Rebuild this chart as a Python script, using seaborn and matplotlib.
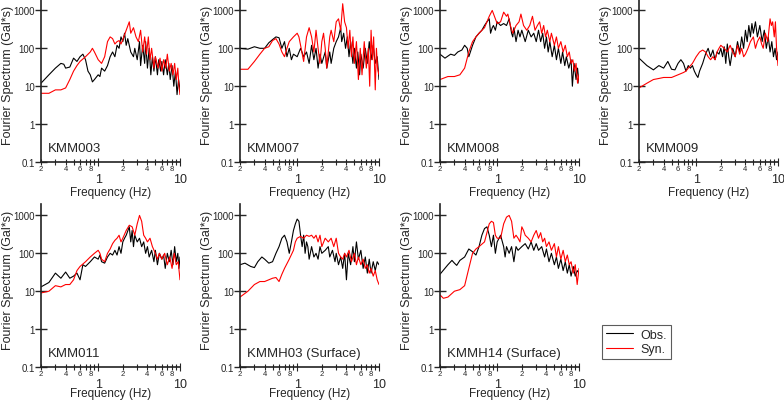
import numpy as np
import pandas as pd
import matplotlib
matplotlib.use("Agg")
import matplotlib.pyplot as plt
import seaborn as sns
from matplotlib.ticker import FixedLocator, FixedFormatter

# ---- data (frequency in Hz, amplitude in Gal*s) ----
kmm003_obs_f = [0.2, 0.25, 0.3, 0.35, 0.38, 0.4, 0.45, 0.5, 0.55, 0.6, 0.65, 0.7, 0.75, 0.8, 0.85, 0.9,
                1.0, 1.05, 1.1, 1.2, 1.3, 1.4, 1.5, 1.6, 1.7, 1.8, 1.9, 2.0, 2.1, 2.2, 2.3, 2.5, 2.7, 2.8,
                3.0, 3.2, 3.3, 3.5, 3.7, 3.8, 4.0, 4.2, 4.4, 4.6, 4.8, 5.0, 5.3, 5.5, 5.8, 6.0, 6.3, 6.6,
                7.0, 7.3, 7.6, 8.0, 8.4, 8.8, 9.2, 9.6, 10.0]
kmm003_obs_a = [12, 20, 30, 40, 38, 30, 32, 55, 45, 60, 70, 50, 25, 20, 13, 15,
                20, 18, 30, 25, 35, 60, 80, 60, 120, 100, 200, 150, 250, 120, 180, 80, 60, 100,
                50, 150, 35, 120, 40, 150, 30, 100, 20, 60, 25, 60, 20, 50, 25, 45, 20, 50,
                20, 40, 15, 35, 10, 25, 6, 15, 8]
kmm003_syn_f = [0.2, 0.25, 0.3, 0.35, 0.4, 0.45, 0.5, 0.55, 0.6, 0.7, 0.8, 0.85, 0.9, 1.0, 1.1, 1.2,
                1.3, 1.4, 1.5, 1.6, 1.7, 1.8, 1.9, 2.0, 2.2, 2.4, 2.5, 2.7, 2.9, 3.1, 3.3, 3.5, 3.7,
                3.9, 4.1, 4.3, 4.5, 4.8, 5.0, 5.4, 5.7, 6.0, 6.3, 6.7, 7.0, 7.4, 7.8, 8.2, 8.6, 9.0,
                9.4, 9.7, 10.0]
kmm003_syn_a = [6.5, 6.5, 8, 8, 9, 15, 25, 35, 45, 60, 80, 100, 80, 50, 40, 60,
                150, 200, 180, 130, 150, 160, 130, 170, 300, 500, 250, 350, 200, 150, 300, 80, 200,
                70, 200, 50, 100, 30, 60, 30, 55, 25, 50, 30, 70, 25, 40, 20, 40, 15,
                30, 10, 6]

kmm007_obs_f = [0.2, 0.25, 0.3, 0.35, 0.4, 0.45, 0.5, 0.55, 0.6, 0.65, 0.7, 0.75, 0.8, 0.85, 0.9, 1.0,
                1.1, 1.2, 1.3, 1.4, 1.5, 1.6, 1.7, 1.8, 1.9, 2.0, 2.2, 2.3, 2.5, 2.6, 2.8, 3.0, 3.2,
                3.4, 3.5, 3.7, 3.9, 4.1, 4.3, 4.5, 4.8, 5.0, 5.3, 5.5, 5.8, 6.0, 6.4, 6.8, 7.2, 7.6,
                8.0, 8.5, 9.0, 9.5, 10.0]
kmm007_obs_a = [100, 95, 110, 100, 100, 140, 170, 200, 190, 100, 150, 60, 100, 50, 70, 60,
                100, 60, 80, 40, 120, 50, 100, 30, 70, 40, 80, 30, 80, 40, 100, 150, 200,
                350, 150, 250, 100, 200, 60, 150, 40, 100, 30, 80, 20, 70, 30, 100, 40, 150,
                50, 120, 40, 60, 15]
kmm007_syn_f = [0.2, 0.25, 0.3, 0.35, 0.4, 0.45, 0.5, 0.55, 0.6, 0.65, 0.7, 0.75, 0.8, 0.9, 1.0, 1.05,
                1.1, 1.2, 1.3, 1.4, 1.5, 1.6, 1.7, 1.8, 1.9, 2.0, 2.1, 2.2, 2.3, 2.5, 2.6, 2.8, 3.0,
                3.2, 3.4, 3.6, 3.8, 4.0, 4.2, 4.4, 4.6, 4.8, 5.0, 5.3, 5.6, 5.9, 6.2, 6.6, 7.0, 7.4,
                7.7, 8.0, 8.3, 8.6, 9.0, 9.3, 9.6, 10.0]
kmm007_syn_a = [28, 28, 45, 70, 100, 110, 160, 180, 130, 80, 60, 100, 150, 200, 250, 200,
                120, 45, 200, 350, 200, 80, 300, 100, 40, 150, 250, 100, 30, 200, 300, 150, 500,
                600, 300, 1500, 500, 350, 100, 300, 60, 200, 40, 150, 15, 100, 20, 150, 30, 100,
                10, 300, 50, 200, 8, 100, 30, 20]

kmm008_obs_f = [0.2, 0.23, 0.27, 0.3, 0.33, 0.37, 0.4, 0.43, 0.45, 0.5, 0.55, 0.6, 0.65, 0.7, 0.75, 0.8,
                0.83, 0.87, 0.9, 0.95, 1.0, 1.1, 1.2, 1.3, 1.4, 1.5, 1.55, 1.6, 1.7, 1.8, 1.9, 2.0,
                2.2, 2.4, 2.6, 2.8, 3.0, 3.2, 3.4, 3.6, 3.8, 4.0, 4.2, 4.4, 4.7, 5.0, 5.3, 5.6, 6.0,
                6.3, 6.7, 7.0, 7.5, 8.0, 8.3, 8.7, 9.2, 9.6, 10.0]
kmm008_obs_a = [70, 55, 70, 65, 80, 90, 120, 100, 60, 120, 200, 250, 300, 400, 500, 600,
                250, 350, 400, 300, 500, 400, 450, 400, 600, 250, 200, 350, 150, 300, 200, 300,
                150, 300, 200, 250, 150, 300, 150, 250, 100, 200, 80, 150, 60, 120, 50, 100, 40,
                80, 35, 60, 30, 50, 10, 40, 15, 30, 12]
kmm008_syn_f = [0.2, 0.25, 0.3, 0.35, 0.4, 0.45, 0.5, 0.55, 0.6, 0.7, 0.8, 0.87, 0.95, 1.0, 1.1, 1.2,
                1.3, 1.35, 1.45, 1.55, 1.7, 1.85, 1.95, 2.1, 2.3, 2.5, 2.7, 2.9, 3.1, 3.3, 3.5, 3.7,
                3.9, 4.1, 4.4, 4.6, 5.0, 5.3, 5.6, 6.0, 6.4, 6.8, 7.2, 7.6, 8.0, 8.4, 8.8, 9.2, 9.6,
                10.0]
kmm008_syn_a = [15, 18, 18, 20, 30, 80, 150, 200, 250, 350, 700, 1000, 600, 450, 500, 900,
                700, 800, 400, 250, 400, 500, 800, 400, 300, 400, 700, 300, 400, 500, 250, 400,
                200, 300, 150, 250, 120, 200, 100, 150, 80, 120, 60, 80, 40, 50, 25, 40, 12,
                20]

kmm009_obs_f = [0.2, 0.25, 0.3, 0.35, 0.4, 0.45, 0.5, 0.55, 0.6, 0.65, 0.7, 0.75, 0.8, 0.85, 0.9, 0.95,
                1.0, 1.05, 1.1, 1.2, 1.3, 1.4, 1.5, 1.6, 1.7, 1.8, 1.9, 2.0, 2.1, 2.2, 2.3, 2.4, 2.5,
                2.6, 2.8, 3.0, 3.2, 3.4, 3.6, 3.8, 4.0, 4.2, 4.4, 4.6, 4.8, 5.0, 5.3, 5.6, 6.0, 6.4,
                6.8, 7.2, 7.6, 8.0, 8.4, 8.8, 9.2, 9.6, 10.0]
kmm009_obs_a = [55, 35, 27, 35, 30, 45, 28, 27, 40, 50, 40, 25, 35, 30, 35, 25,
                20, 17, 25, 40, 70, 100, 60, 90, 50, 80, 70, 100, 60, 110, 40, 130, 60,
                35, 100, 60, 150, 80, 200, 100, 300, 150, 400, 200, 450, 250, 500, 200, 400, 150,
                300, 100, 200, 80, 150, 60, 100, 50, 80]
kmm009_syn_f = [0.2, 0.25, 0.3, 0.35, 0.4, 0.5, 0.6, 0.7, 0.75, 0.8, 0.9, 1.0, 1.1, 1.2, 1.3, 1.4,
                1.5, 1.6, 1.7, 1.8, 1.9, 2.0, 2.2, 2.4, 2.6, 2.8, 3.0, 3.2, 3.4, 3.6, 3.8, 4.0, 4.3,
                4.6, 5.0, 5.3, 5.6, 6.0, 6.3, 6.6, 7.0, 7.5, 8.0, 8.3, 8.6, 9.0, 9.3, 9.6, 10.0]
kmm009_syn_a = [9, 12, 15, 16, 17, 17, 20, 23, 25, 30, 40, 60, 80, 90, 80, 60,
                50, 60, 50, 80, 100, 120, 100, 80, 120, 80, 60, 120, 70, 100, 60, 70, 100,
                150, 200, 100, 150, 200, 130, 100, 250, 150, 600, 400, 500, 200, 500, 100, 35]

kmm011_obs_f = [0.2, 0.25, 0.3, 0.35, 0.4, 0.45, 0.5, 0.55, 0.6, 0.65, 0.7, 0.8, 0.9, 1.0, 1.05, 1.1,
                1.2, 1.3, 1.4, 1.5, 1.6, 1.7, 1.8, 1.9, 2.0, 2.1, 2.2, 2.4, 2.5, 2.6, 2.7, 2.8, 3.0,
                3.2, 3.4, 3.6, 3.8, 4.0, 4.2, 4.5, 4.8, 5.0, 5.3, 5.6, 6.0, 6.3, 6.6, 7.0, 7.4, 7.8,
                8.2, 8.6, 9.0, 9.4, 9.7, 10.0]
kmm011_obs_a = [13, 17, 30, 22, 32, 22, 25, 30, 20, 50, 45, 60, 80, 70, 90, 60,
                55, 80, 100, 90, 120, 90, 150, 100, 200, 250, 300, 500, 200, 400, 150, 300, 200,
                250, 150, 200, 100, 150, 80, 120, 60, 120, 50, 100, 70, 90, 40, 100, 60, 120,
                50, 150, 60, 100, 40, 80]
kmm011_syn_f = [0.2, 0.25, 0.3, 0.35, 0.4, 0.45, 0.5, 0.55, 0.6, 0.7, 0.8, 0.9, 1.0, 1.05, 1.1, 1.2,
                1.3, 1.4, 1.5, 1.6, 1.7, 1.8, 1.9, 2.0, 2.2, 2.4, 2.6, 2.8, 3.0, 3.2, 3.4, 3.6, 3.8,
                4.0, 4.3, 4.6, 5.0, 5.3, 5.6, 6.0, 6.5, 7.0, 7.5, 8.0, 8.5, 9.0, 9.5, 10.0]
kmm011_syn_a = [9, 10, 14, 13, 15, 15, 20, 35, 45, 60, 80, 100, 120, 100, 70, 60,
                100, 130, 180, 220, 250, 300, 200, 250, 400, 550, 500, 300, 600, 1000, 700, 300, 250,
                200, 250, 150, 100, 70, 100, 70, 100, 50, 80, 40, 100, 50, 60, 20]

kmmh03_obs_f = [0.2, 0.23, 0.27, 0.3, 0.33, 0.37, 0.4, 0.45, 0.5, 0.55, 0.6, 0.65, 0.7, 0.75, 0.8, 0.85,
                0.9, 0.95, 1.0, 1.05, 1.1, 1.15, 1.2, 1.25, 1.3, 1.35, 1.4, 1.5, 1.6, 1.7, 1.8, 1.9,
                2.0, 2.2, 2.4, 2.5, 2.7, 2.9, 3.0, 3.2, 3.4, 3.6, 3.8, 4.0, 4.2, 4.5, 4.8, 5.0, 5.3,
                5.6, 6.0, 6.4, 6.8, 7.2, 7.6, 8.0, 8.5, 9.0, 9.5, 10.0]
kmmh03_obs_a = [50, 55, 45, 42, 60, 80, 70, 55, 60, 100, 150, 250, 300, 200, 100, 200,
                400, 600, 800, 700, 300, 150, 300, 100, 200, 150, 70, 150, 80, 100, 70, 150,
                100, 120, 150, 80, 120, 60, 100, 50, 80, 40, 100, 20, 100, 50, 150, 60, 200,
                70, 120, 40, 80, 30, 70, 30, 60, 35, 60, 50]
kmmh03_syn_f = [0.2, 0.25, 0.3, 0.35, 0.4, 0.45, 0.5, 0.55, 0.6, 0.65, 0.7, 0.8, 0.9, 0.95, 1.0, 1.1,
                1.2, 1.3, 1.4, 1.5, 1.6, 1.7, 1.8, 1.9, 2.0, 2.2, 2.4, 2.6, 2.8, 3.0, 3.2, 3.4, 3.6,
                3.8, 4.0, 4.3, 4.6, 5.0, 5.3, 5.6, 6.0, 6.4, 6.8, 7.2, 7.6, 8.0, 8.5, 9.0, 9.5, 10.0]
kmmh03_syn_a = [7, 10, 15, 18, 18, 20, 22, 23, 18, 28, 40, 70, 120, 200, 250, 280,
                250, 300, 280, 300, 250, 300, 200, 300, 150, 250, 200, 250, 150, 250, 100, 80, 70,
                100, 80, 120, 60, 100, 50, 80, 50, 70, 40, 50, 30, 40, 25, 35, 20, 15]

kmmh14_obs_f = [0.2, 0.25, 0.28, 0.3, 0.32, 0.35, 0.4, 0.45, 0.5, 0.55, 0.6, 0.65, 0.7, 0.75, 0.8, 0.85,
                0.9, 0.95, 1.0, 1.1, 1.2, 1.25, 1.3, 1.4, 1.5, 1.6, 1.7, 1.8, 2.0, 2.2, 2.4, 2.6, 2.8,
                3.0, 3.2, 3.5, 3.8, 4.0, 4.3, 4.6, 5.0, 5.3, 5.6, 6.0, 6.4, 6.8, 7.2, 7.6, 8.0, 8.5,
                9.0, 9.5, 10.0]
kmmh14_obs_a = [28, 50, 65, 55, 48, 65, 80, 130, 110, 90, 150, 300, 450, 500, 300, 150,
                300, 100, 200, 300, 150, 80, 150, 100, 150, 60, 150, 120, 150, 180, 130, 200, 120,
                180, 120, 150, 80, 130, 60, 100, 50, 80, 40, 70, 35, 60, 30, 50, 25, 45,
                25, 35, 30]
kmmh14_syn_f = [0.2, 0.22, 0.25, 0.3, 0.35, 0.4, 0.45, 0.5, 0.55, 0.6, 0.7, 0.8, 0.85, 0.9, 0.95, 1.0,
                1.1, 1.2, 1.3, 1.4, 1.5, 1.6, 1.7, 1.8, 1.9, 2.0, 2.1, 2.2, 2.4, 2.6, 2.8, 3.0, 3.2,
                3.4, 3.6, 3.8, 4.0, 4.3, 4.6, 5.0, 5.3, 5.6, 6.0, 6.4, 6.8, 7.2, 7.6, 8.0, 8.5, 9.0,
                9.5, 10.0]
kmmh14_syn_a = [8, 6.5, 7, 10, 11, 14, 40, 100, 130, 150, 200, 600, 700, 650, 300, 250,
                250, 600, 900, 1000, 700, 250, 300, 250, 200, 500, 400, 300, 250, 200, 300, 400, 250,
                350, 200, 250, 150, 200, 120, 180, 80, 150, 70, 120, 60, 90, 50, 60, 30, 50,
                15, 40]

stations = ["KMM003", "KMM007", "KMM008", "KMM009", "KMM011", "KMMH03 (Surface)", "KMMH14 (Surface)"]
obs_f = [kmm003_obs_f, kmm007_obs_f, kmm008_obs_f, kmm009_obs_f, kmm011_obs_f, kmmh03_obs_f, kmmh14_obs_f]
obs_a = [kmm003_obs_a, kmm007_obs_a, kmm008_obs_a, kmm009_obs_a, kmm011_obs_a, kmmh03_obs_a, kmmh14_obs_a]
syn_f = [kmm003_syn_f, kmm007_syn_f, kmm008_syn_f, kmm009_syn_f, kmm011_syn_f, kmmh03_syn_f, kmmh14_syn_f]
syn_a = [kmm003_syn_a, kmm007_syn_a, kmm008_syn_a, kmm009_syn_a, kmm011_syn_a, kmmh03_syn_a, kmmh14_syn_a]

minor_ticks = [0.2, 0.3, 0.4, 0.5, 0.6, 0.7, 0.8, 0.9, 2, 3, 4, 5, 6, 7, 8, 9]
minor_labels = ["2", "", "4", "", "6", "", "8", "", "2", "", "4", "", "6", "", "8", ""]

# ---- figure ----
sns.set_style("ticks")
plt.rcParams["font.family"] = ["Liberation Sans", "DejaVu Sans"]

fig = plt.figure(figsize=(7.84, 4.02), dpi=100)
W, H = 784.0, 402.0
lefts = [41, 240, 440, 639]
rows = [(0, 163), (205, 368)]      # top, bottom in pixels
xlabel_y = [-0.145, -0.12]         # axes fraction, per row

for i, name in enumerate(stations):
    r, c = divmod(i, 4)
    top, bot = rows[r]
    ax = fig.add_axes([lefts[c] / W, 1 - bot / H, 139 / W, (bot - top) / H])

    sns.lineplot(x=obs_f[i], y=obs_a[i], ax=ax, color="black", lw=0.8, label="Obs.")
    sns.lineplot(x=syn_f[i], y=syn_a[i], ax=ax, color="red", lw=0.8, label="Syn.")
    ax.get_legend().remove()

    ax.set_xscale("log")
    ax.set_yscale("log")
    ax.set_xlim(0.2, 10)
    ax.set_ylim(0.1, 2000)
    sns.despine(ax=ax)
    for s in ["left", "bottom"]:
        ax.spines[s].set_linewidth(1.2)
        ax.spines[s].set_color("#222222")

    ax.yaxis.set_major_locator(FixedLocator([0.1, 1, 10, 100, 1000]))
    ax.yaxis.set_major_formatter(FixedFormatter(["0.1", "1", "10", "100", "1000"]))
    ax.yaxis.set_minor_locator(FixedLocator([]))
    ax.tick_params(axis="y", which="major", direction="inout", length=8, width=1,
                   labelsize=7, pad=0.5)

    ax.xaxis.set_major_locator(FixedLocator([1, 10]))
    ax.xaxis.set_major_formatter(FixedFormatter(["1", "10"]))
    ax.xaxis.set_minor_locator(FixedLocator(minor_ticks))
    ax.xaxis.set_minor_formatter(FixedFormatter(minor_labels))
    ax.tick_params(axis="x", which="minor", direction="inout", length=4, width=0.8,
                   labelsize=5.5, pad=0.5)
    ax.tick_params(axis="x", which="major", direction="inout", length=6, width=0.8,
                   labelsize=9, pad=5)

    ax.set_xlabel("Frequency (Hz)", fontsize=8.5)
    ax.xaxis.set_label_coords(0.5, xlabel_y[r])
    ax.set_ylabel("Fourier Spectrum (Gal*s)", fontsize=9)
    ax.yaxis.set_label_coords(-0.195, 0.54)
    ax.text(0.05, 0.085, name, transform=ax.transAxes, fontsize=9.5, va="center", ha="left")

# legend in the empty slot
handles = [plt.Line2D([], [], color="black", lw=0.8), plt.Line2D([], [], color="red", lw=0.8)]
leg = fig.legend(handles, ["Obs.", "Syn."], loc="upper left",
                 bbox_to_anchor=(602 / W, 1 - 326 / H), fontsize=9, frameon=True,
                 fancybox=False, handlelength=2.2, handletextpad=0.6, borderpad=0.3,
                 labelspacing=0.2, borderaxespad=0)
leg.get_frame().set_edgecolor("#333333")
leg.get_frame().set_linewidth(0.8)

fig.savefig("out.png", dpi=100)
